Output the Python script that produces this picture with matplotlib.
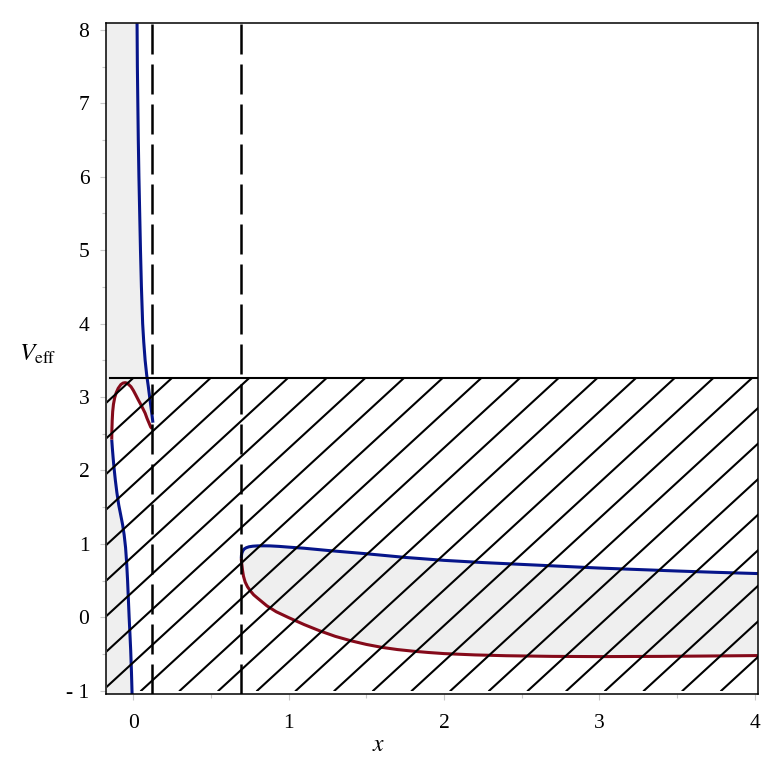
import numpy as np
import matplotlib
matplotlib.use("Agg")
import matplotlib.pyplot as plt
from matplotlib.patches import Rectangle

plt.rcParams['font.family'] = ['Liberation Serif', 'DejaVu Serif']
plt.rcParams['mathtext.fontset'] = 'stix'

# branch left of the first asymptote (upper part, blue)
blue_up_x = [0.024, 0.026, 0.029, 0.032, 0.036, 0.041, 0.046, 0.052, 0.060, 0.067, 0.076, 0.086, 0.096, 0.105, 0.113, 0.120, 0.126]
blue_up_v = [8.09, 7.5, 7.0, 6.5, 6.0, 5.5, 5.0, 4.5, 4.0, 3.75, 3.5, 3.3, 3.15, 3.0, 2.87, 2.76, 2.65]

# red arc near x = 0 (from right end to left end)
red_arc_x = [0.121, 0.112, 0.100, 0.088, 0.076, 0.055, 0.032, 0.015, 0.0, -0.015, -0.030, -0.042, -0.053, -0.066,
             -0.080, -0.097, -0.110, -0.120, -0.128, -0.133, -0.136, -0.138, -0.139]
red_arc_v = [2.57, 2.59, 2.65, 2.71, 2.78, 2.87, 2.96, 3.03, 3.09, 3.14, 3.17, 3.19, 3.195, 3.19,
             3.17, 3.12, 3.06, 2.99, 2.90, 2.80, 2.68, 2.55, 2.42]

# lower blue branch near x = 0
blue_lo_x = [-0.139, -0.135, -0.130, -0.124, -0.116, -0.106, -0.094, -0.081, -0.069, -0.059, -0.050,
             -0.043, -0.037, -0.032, -0.027, -0.022, -0.017, -0.012, -0.008]
blue_lo_v = [2.42, 2.30, 2.17, 2.03, 1.87, 1.70, 1.53, 1.39, 1.26, 1.12, 0.95,
             0.74, 0.50, 0.25, 0.0, -0.22, -0.45, -0.75, -1.05]

# right branch
blue_r_x = [0.695, 0.696, 0.699, 0.705, 0.714, 0.727, 0.745, 0.77, 0.80, 0.84, 0.88, 0.94, 1.0, 1.1, 1.25,
            1.5, 1.75, 2.0, 2.25, 2.5, 2.75, 3.0, 3.25, 3.5, 3.75, 4.02]
blue_r_v = [0.80, 0.84, 0.875, 0.905, 0.93, 0.947, 0.96, 0.968, 0.972, 0.973, 0.972, 0.965, 0.955, 0.94, 0.91,
            0.865, 0.815, 0.775, 0.745, 0.72, 0.695, 0.67, 0.65, 0.63, 0.612, 0.595]
red_r_x = [0.695, 0.696, 0.698, 0.703, 0.709, 0.72, 0.735, 0.755, 0.775, 0.80, 0.86, 0.92, 1.0, 1.1,
           1.2, 1.3, 1.4, 1.5, 1.6, 1.7, 1.8, 1.9, 2.0, 2.2, 2.4, 2.7, 3.0, 3.4, 3.7, 4.02]
red_r_v = [0.80, 0.77, 0.728, 0.64, 0.56, 0.48, 0.415, 0.355, 0.305, 0.26, 0.155, 0.075, -0.005, -0.10,
           -0.185, -0.26, -0.32, -0.37, -0.41, -0.44, -0.462, -0.48, -0.495, -0.513, -0.524, -0.533, -0.536, -0.533,
           -0.528, -0.522]

asymptotes = [0.122, 0.695]
v_level = 3.26

x_ticks = [0, 1, 2, 3, 4]
y_ticks = [-1, 0, 1, 2, 3, 4, 5, 6, 7, 8]
y_tick_labels = ['- 1', '0', '1', '2', '3', '4', '5', '6', '7', '8']

xmin, xmax = -0.176, 4.02
ymin, ymax = -1.05, 8.09

blue = '#06158a'
red = '#850a1a'
gray = '#efefef'

fig = plt.figure(figsize=(7.72, 7.72), dpi=100)
ax = fig.add_axes([0.1373, 0.1006, 0.8442, 0.8692])
ax.set_xlim(xmin, xmax)
ax.set_ylim(ymin, ymax)

# gray allowed regions
left_x = [xmin] + blue_up_x + red_arc_x + blue_lo_x + [xmin]
left_v = [ymax] + blue_up_v + red_arc_v + blue_lo_v + [ymin]
ax.fill(left_x, left_v, color=gray, lw=0, zorder=1)
ax.fill(blue_r_x + red_r_x[::-1], blue_r_v + red_r_v[::-1], color=gray, lw=0, zorder=1)

# curves
lw_c = 2.2
for cx, cv, col in [(blue_up_x, blue_up_v, blue), (blue_lo_x, blue_lo_v, blue),
                    (red_arc_x, red_arc_v, red), (blue_r_x, blue_r_v, blue),
                    (red_r_x, red_r_v, red)]:
    ax.plot(cx, cv, color=col, lw=lw_c, zorder=3, solid_capstyle='butt',
            solid_joinstyle='round')

# hatched forbidden region below the energy level
clip = Rectangle((-0.168, -1.0), xmax + 0.168, v_level + 1.0, transform=ax.transData)
slope = 1.945
step = 0.249
for k in range(-5, 40):
    xk = k * step
    xs = np.array([xk - (v_level + 1.0) / slope, xk])
    vs = np.array([-1.0, v_level])
    ln, = ax.plot(xs, vs, color='black', lw=1.5, zorder=4)
    ln.set_clip_path(clip)
ax.plot([-0.15, xmax], [v_level, v_level], color='black', lw=1.5, zorder=4)

for xa in asymptotes:
    ax.plot([xa, xa], [ymin, ymax], color='black', lw=1.8,
            linestyle=(0, (12, 4)), zorder=5)

for s in ax.spines.values():
    s.set_linewidth(1.1)
    s.set_zorder(6)

ax.set_xticks(x_ticks)
ax.set_xticks(np.arange(0.5, 4, 1.0), minor=True)
ax.set_yticks(y_ticks)
ax.set_yticklabels(y_tick_labels)
ax.set_yticks(np.arange(-0.5, 8, 1.0), minor=True)
ax.tick_params(axis='both', which='major', direction='out', length=4, width=0.8,
               color='#c8c8c8', labelsize=15.5, top=False, right=False)
ax.tick_params(axis='both', which='minor', direction='out', length=3, width=0.8,
               color='#c8c8c8', top=False, right=False)
ax.tick_params(axis='x', which='major', pad=10)
ax.tick_params(axis='y', which='major', pad=8)

ax.text(0.418, -0.076, '$x$', transform=ax.transAxes, fontsize=17,
        ha='center', va='center')
ax.text(-0.104, 0.506, r'$V_{\mathrm{eff}}$', transform=ax.transAxes, fontsize=18,
        ha='center', va='center')

fig.savefig('out.png', dpi=100)
